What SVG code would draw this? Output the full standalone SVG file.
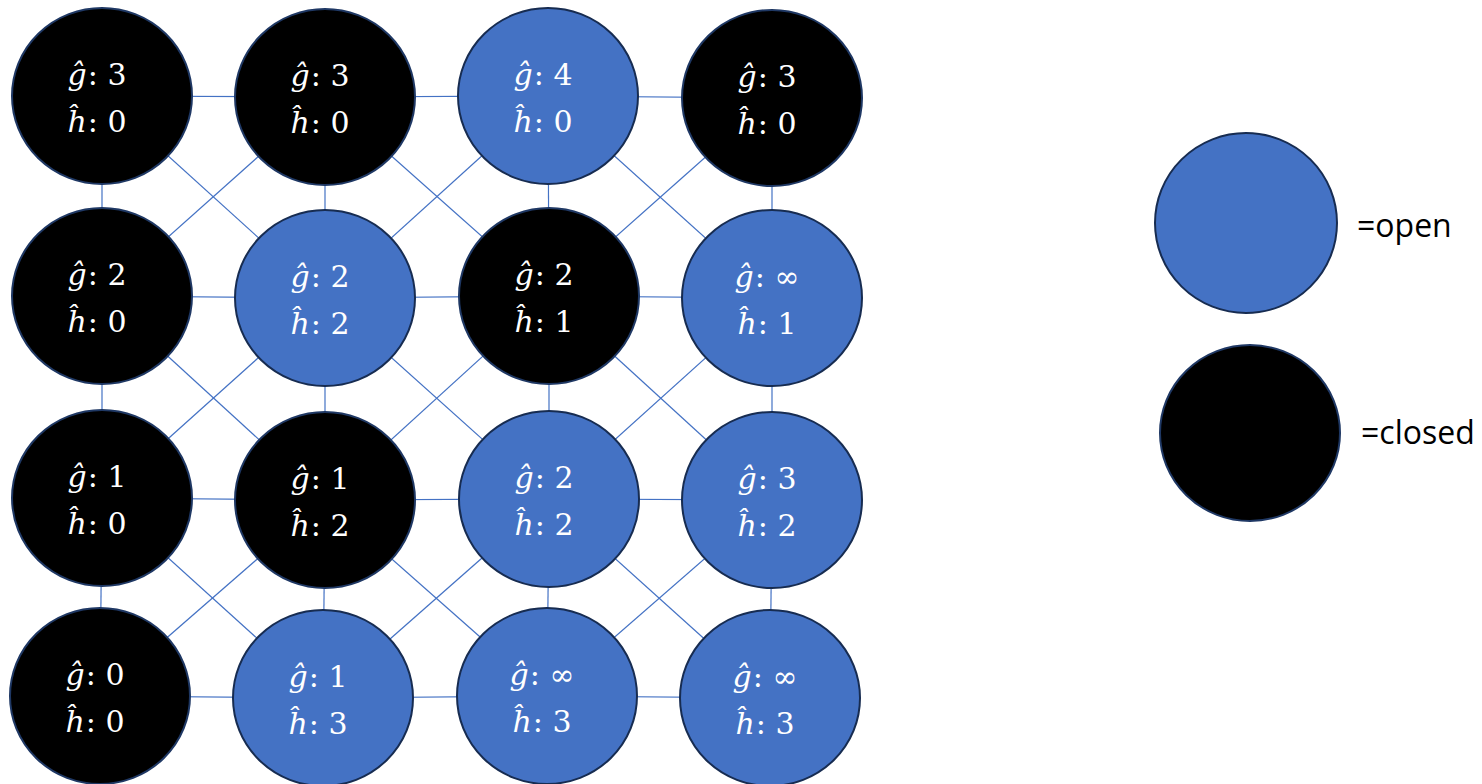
<svg xmlns="http://www.w3.org/2000/svg" width="1482" height="784" viewBox="0 0 1482 784">
<style>
.open{fill:#4472C4;stroke:#172C51;stroke-width:2}
.closed{fill:#000000;stroke:#1F3864;stroke-width:2}
.lbl{font-family:"DejaVu Serif","Liberation Serif",serif;font-size:30px;fill:#ffffff;text-anchor:middle}
.it{font-style:italic}
.leg{font-family:"Open Sans","Liberation Sans",sans-serif;font-size:32px;fill:#000000}
#edges line{stroke:#4472C4;stroke-width:1.2}
</style>
<rect width="1482" height="784" fill="#ffffff"/>
<g id="edges">
<line x1="102" y1="96" x2="325" y2="97"/><line x1="325" y1="97" x2="548" y2="96"/><line x1="548" y1="96" x2="772" y2="98"/>
<line x1="102" y1="296" x2="325" y2="298"/><line x1="325" y1="298" x2="549" y2="296"/><line x1="549" y1="296" x2="772" y2="298"/>
<line x1="102" y1="498" x2="325" y2="500"/><line x1="325" y1="500" x2="549" y2="499"/><line x1="549" y1="499" x2="772" y2="500"/>
<line x1="100" y1="696" x2="323" y2="698"/><line x1="323" y1="698" x2="547" y2="696"/><line x1="547" y1="696" x2="770" y2="698"/>
<line x1="102" y1="96" x2="102" y2="296"/><line x1="102" y1="296" x2="102" y2="498"/><line x1="102" y1="498" x2="100" y2="696"/>
<line x1="325" y1="97" x2="325" y2="298"/><line x1="325" y1="298" x2="325" y2="500"/><line x1="325" y1="500" x2="323" y2="698"/>
<line x1="548" y1="96" x2="549" y2="296"/><line x1="549" y1="296" x2="549" y2="499"/><line x1="549" y1="499" x2="547" y2="696"/>
<line x1="772" y1="98" x2="772" y2="298"/><line x1="772" y1="298" x2="772" y2="500"/><line x1="772" y1="500" x2="770" y2="698"/>
<line x1="102" y1="96" x2="325" y2="298"/><line x1="325" y1="97" x2="102" y2="296"/>
<line x1="325" y1="97" x2="549" y2="296"/><line x1="548" y1="96" x2="325" y2="298"/>
<line x1="548" y1="96" x2="772" y2="298"/><line x1="772" y1="98" x2="549" y2="296"/>
<line x1="102" y1="296" x2="325" y2="500"/><line x1="325" y1="298" x2="102" y2="498"/>
<line x1="325" y1="298" x2="549" y2="499"/><line x1="549" y1="296" x2="325" y2="500"/>
<line x1="549" y1="296" x2="772" y2="500"/><line x1="772" y1="298" x2="549" y2="499"/>
<line x1="102" y1="498" x2="323" y2="698"/><line x1="325" y1="500" x2="100" y2="696"/>
<line x1="325" y1="500" x2="547" y2="696"/><line x1="549" y1="499" x2="323" y2="698"/>
<line x1="549" y1="499" x2="770" y2="698"/><line x1="772" y1="500" x2="547" y2="696"/>
</g>
<g id="n00"><ellipse class="closed" cx="102" cy="96" rx="90" ry="88"/><text class="lbl" x="97" y="85"><tspan class="it">ĝ</tspan><tspan dx="1">: 3</tspan></text><text class="lbl" x="97" y="132"><tspan class="it">ĥ</tspan><tspan dx="1">: 0</tspan></text></g>
<g id="n01"><ellipse class="closed" cx="325" cy="97" rx="90" ry="88"/><text class="lbl" x="320" y="86"><tspan class="it">ĝ</tspan><tspan dx="1">: 3</tspan></text><text class="lbl" x="320" y="133"><tspan class="it">ĥ</tspan><tspan dx="1">: 0</tspan></text></g>
<g id="n02"><ellipse class="open" cx="548" cy="96" rx="90" ry="88"/><text class="lbl" x="543" y="85"><tspan class="it">ĝ</tspan><tspan dx="1">: 4</tspan></text><text class="lbl" x="543" y="132"><tspan class="it">ĥ</tspan><tspan dx="1">: 0</tspan></text></g>
<g id="n03"><ellipse class="closed" cx="772" cy="98" rx="90" ry="88"/><text class="lbl" x="767" y="87"><tspan class="it">ĝ</tspan><tspan dx="1">: 3</tspan></text><text class="lbl" x="767" y="134"><tspan class="it">ĥ</tspan><tspan dx="1">: 0</tspan></text></g>

<g id="n10"><ellipse class="closed" cx="102" cy="296" rx="90" ry="88"/><text class="lbl" x="97" y="285"><tspan class="it">ĝ</tspan><tspan dx="1">: 2</tspan></text><text class="lbl" x="97" y="332"><tspan class="it">ĥ</tspan><tspan dx="1">: 0</tspan></text></g>
<g id="n11"><ellipse class="open" cx="325" cy="298" rx="90" ry="88"/><text class="lbl" x="320" y="287"><tspan class="it">ĝ</tspan><tspan dx="1">: 2</tspan></text><text class="lbl" x="320" y="334"><tspan class="it">ĥ</tspan><tspan dx="1">: 2</tspan></text></g>
<g id="n12"><ellipse class="closed" cx="549" cy="296" rx="90" ry="88"/><text class="lbl" x="544" y="285"><tspan class="it">ĝ</tspan><tspan dx="1">: 2</tspan></text><text class="lbl" x="544" y="332"><tspan class="it">ĥ</tspan><tspan dx="1">: 1</tspan></text></g>
<g id="n13"><ellipse class="open" cx="772" cy="298" rx="90" ry="88"/><text class="lbl" x="767" y="287"><tspan class="it">ĝ</tspan><tspan dx="1">: ∞</tspan></text><text class="lbl" x="767" y="334"><tspan class="it">ĥ</tspan><tspan dx="1">: 1</tspan></text></g>

<g id="n20"><ellipse class="closed" cx="102" cy="498" rx="90" ry="88"/><text class="lbl" x="97" y="487"><tspan class="it">ĝ</tspan><tspan dx="1">: 1</tspan></text><text class="lbl" x="97" y="534"><tspan class="it">ĥ</tspan><tspan dx="1">: 0</tspan></text></g>
<g id="n21"><ellipse class="closed" cx="325" cy="500" rx="90" ry="88"/><text class="lbl" x="320" y="489"><tspan class="it">ĝ</tspan><tspan dx="1">: 1</tspan></text><text class="lbl" x="320" y="536"><tspan class="it">ĥ</tspan><tspan dx="1">: 2</tspan></text></g>
<g id="n22"><ellipse class="open" cx="549" cy="499" rx="90" ry="88"/><text class="lbl" x="544" y="488"><tspan class="it">ĝ</tspan><tspan dx="1">: 2</tspan></text><text class="lbl" x="544" y="535"><tspan class="it">ĥ</tspan><tspan dx="1">: 2</tspan></text></g>
<g id="n23"><ellipse class="open" cx="772" cy="500" rx="90" ry="88"/><text class="lbl" x="767" y="489"><tspan class="it">ĝ</tspan><tspan dx="1">: 3</tspan></text><text class="lbl" x="767" y="536"><tspan class="it">ĥ</tspan><tspan dx="1">: 2</tspan></text></g>

<g id="n30"><ellipse class="closed" cx="100" cy="696" rx="90" ry="88"/><text class="lbl" x="95" y="685"><tspan class="it">ĝ</tspan><tspan dx="1">: 0</tspan></text><text class="lbl" x="95" y="732"><tspan class="it">ĥ</tspan><tspan dx="1">: 0</tspan></text></g>
<g id="n31"><ellipse class="open" cx="323" cy="698" rx="90" ry="88"/><text class="lbl" x="318" y="687"><tspan class="it">ĝ</tspan><tspan dx="1">: 1</tspan></text><text class="lbl" x="318" y="734"><tspan class="it">ĥ</tspan><tspan dx="1">: 3</tspan></text></g>
<g id="n32"><ellipse class="open" cx="547" cy="696" rx="90" ry="88"/><text class="lbl" x="542" y="685"><tspan class="it">ĝ</tspan><tspan dx="1">: ∞</tspan></text><text class="lbl" x="542" y="732"><tspan class="it">ĥ</tspan><tspan dx="1">: 3</tspan></text></g>
<g id="n33"><ellipse class="open" cx="770" cy="698" rx="90" ry="88"/><text class="lbl" x="765" y="687"><tspan class="it">ĝ</tspan><tspan dx="1">: ∞</tspan></text><text class="lbl" x="765" y="734"><tspan class="it">ĥ</tspan><tspan dx="1">: 3</tspan></text></g>

<g id="legend-open"><ellipse class="open" cx="1246" cy="223" rx="91" ry="90"/><text class="leg" x="1357" y="237">=open</text></g>
<g id="legend-closed"><ellipse class="closed" cx="1250" cy="433" rx="90" ry="88"/><text class="leg" x="1361" y="444">=closed</text></g>
</svg>
